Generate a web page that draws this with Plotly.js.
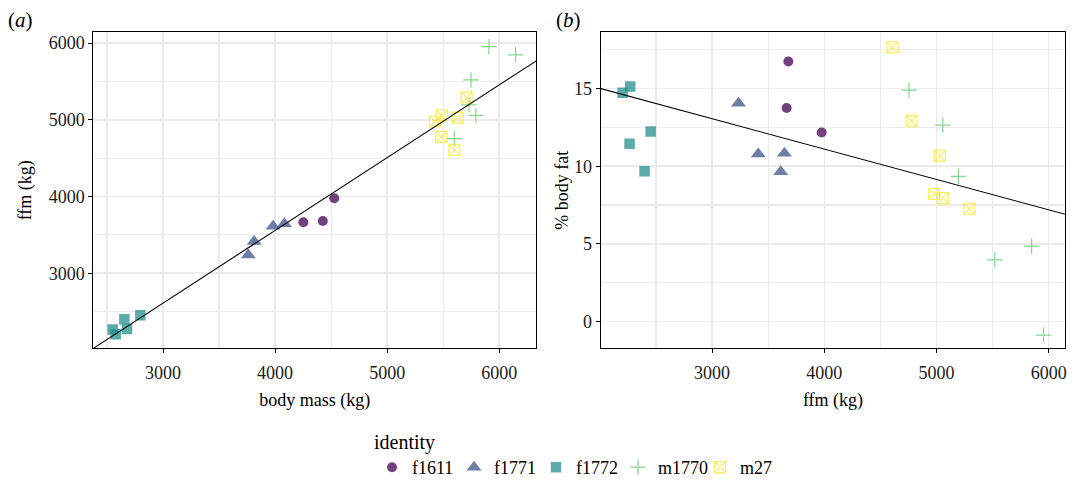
<!DOCTYPE html>
<html>
<head>
<meta charset="utf-8">
<script src="https://cdn.plot.ly/plotly-3.0.1.min.js"></script>
<style>html,body{margin:0;padding:0;background:#fff;}#chart{width:1074px;height:486px;}</style>
</head>
<body>
<div id="chart"></div>
<script>
// ---- data ----
const identities = ["f1611", "f1771", "f1772", "m1770", "m27"];
const colors = ["#440154", "#3B528B", "#21908C", "#5DC863", "#FDE725"];

// body mass (kg)
const massF1611 = [4252, 4426, 4528];
const massF1771 = [3761, 3813, 3982, 4083];
const massF1772 = [2578, 2679, 2551, 2798, 2655];
const massM1770 = [5599, 5792, 5730, 5748, 6146, 5908];
const massM27   = [5709, 5486, 5426, 5629, 5483, 5599];

// fat-free mass (kg)
const ffmF1611 = [3665, 3680, 3977];
const ffmF1771 = [3236, 3412, 3612, 3645];
const ffmF1772 = [2203, 2271, 2265, 2453, 2399];
const ffmM1770 = [4755, 5057, 5195, 5520, 5848, 5954];
const ffmM27   = [5293, 5057, 4978, 5030, 4778, 4608];

// % body fat
const fatF1611 = [13.75, 16.75, 12.17];
const fatF1771 = [14.06, 10.79, 9.65, 10.83];
const fatF1772 = [14.73, 15.13, 11.45, 12.23, 9.67];
const fatM1770 = [14.90, 12.65, 9.34, 3.97, 4.85, -0.88];
const fatM27   = [7.25, 7.94, 8.21, 10.68, 12.92, 17.66];

// fitted lines (intercept, slope)
const fitA = {intercept: -236, slope: 0.9486};
const fitB = {intercept: 18.93, slope: -0.001957};

// ---- styling ----
const mass = [massF1611, massF1771, massF1772, massM1770, massM27];
const ffm = [ffmF1611, ffmF1771, ffmF1772, ffmM1770, ffmM27];
const fat = [fatF1611, fatF1771, fatF1772, fatM1770, fatM27];
const symbols = ["circle", "triangle-up", "square", "cross-thin-open", "square-x-open"];
const sizes = [10, 13, 10.5, 11, 11];
const FONT = "'Liberation Serif', 'Times New Roman', Times, serif";

const rangeAx = [2378, 6328];
const rangeAy = [2023, 6140];
const rangeBx = [2008, 6148];
const rangeBy = [-1.71, 18.62];

function markerFor(i) {
  const open = symbols[i].endsWith("open");
  return {
    symbol: symbols[i],
    size: sizes[i],
    color: colors[i],
    opacity: 0.75,
    line: open ? {color: colors[i], width: 1.2} : {width: 0}
  };
}

const traces = [];
identities.forEach((id, i) => {
  traces.push({
    type: "scatter", mode: "markers", name: id, legendgroup: id,
    x: mass[i], y: ffm[i], xaxis: "x", yaxis: "y",
    marker: markerFor(i), showlegend: true, hoverinfo: "x+y"
  });
  traces.push({
    type: "scatter", mode: "markers", name: id, legendgroup: id,
    x: ffm[i], y: fat[i], xaxis: "x2", yaxis: "y2",
    marker: markerFor(i), showlegend: false, hoverinfo: "x+y"
  });
});

const lineAx = [rangeAx[0] - 200, rangeAx[1] + 200];
const lineBx = [rangeBx[0] - 200, rangeBx[1] + 200];
traces.push({
  type: "scatter", mode: "lines", x: lineAx,
  y: lineAx.map(v => fitA.intercept + fitA.slope * v),
  xaxis: "x", yaxis: "y", line: {color: "#000", width: 1.1}, showlegend: false, hoverinfo: "skip"
});
traces.push({
  type: "scatter", mode: "lines", x: lineBx,
  y: lineBx.map(v => fitB.intercept + fitB.slope * v),
  xaxis: "x2", yaxis: "y2", line: {color: "#000", width: 1.1}, showlegend: false, hoverinfo: "skip"
});

const GRID = "#EBEBEB";
function axis(extra) {
  return Object.assign({
    showline: true, mirror: true, linecolor: "#000", linewidth: 1,
    ticks: "outside", ticklen: 4, tickwidth: 1, tickcolor: "#000",
    showgrid: true, gridcolor: GRID, gridwidth: 1.5,
    zeroline: false, automargin: false,
    tickfont: {family: FONT, size: 18, color: "#1a1a1a"}
  }, extra);
}
function minor(t0, dt) {
  return {tick0: t0, dtick: dt, showgrid: true, gridcolor: GRID, gridwidth: 1.2, ticks: ""};
}
const titleFont = {family: FONT, size: 18, color: "#000"};

const W = 1074, H = 486;
const layout = {
  width: W, height: H,
  margin: {l: 0, r: 0, t: 0, b: 0},
  paper_bgcolor: "#fff", plot_bgcolor: "#fff",
  font: {family: FONT, size: 18, color: "#000"},
  xaxis: axis({
    domain: [93.3 / W, 536 / W], range: rangeAx, anchor: "y",
    tick0: 0, dtick: 1000, minor: minor(500, 1000), ticklabelstandoff: 4,
    title: {text: "body mass (kg)", font: titleFont, standoff: 11}
  }),
  yaxis: axis({
    domain: [1 - 357.7 / H, 1 - 33.3 / H], range: rangeAy, anchor: "x",
    tick0: 0, dtick: 1000, minor: minor(500, 1000),
    title: {text: "ffm (kg)", font: titleFont, standoff: 12}
  }),
  xaxis2: axis({
    domain: [600.7 / W, 1065.3 / W], range: rangeBx, anchor: "y2",
    tick0: 0, dtick: 1000, minor: minor(500, 1000), ticklabelstandoff: 4,
    title: {text: "ffm (kg)", font: titleFont, standoff: 11}
  }),
  yaxis2: axis({
    domain: [1 - 357.5 / H, 1 - 33.3 / H], range: rangeBy, anchor: "x2",
    tick0: 0, dtick: 5, minor: minor(2.5, 5),
    title: {text: "% body fat", font: titleFont, standoff: 0}
  }),
  showlegend: true,
  legend: {
    orientation: "h", x: 372 / W, xanchor: "left", y: 1 - 435 / H, yanchor: "top",
    bgcolor: "rgba(0,0,0,0)",
    font: {family: FONT, size: 18, color: "#000"},
    title: {text: "identity", side: "top", font: {family: FONT, size: 20, color: "#000"}},
    itemwidth: 30, tracegroupgap: 0, entrywidth: 37, entrywidthmode: "pixels"
  },
  annotations: [
    {text: "(<i>a</i>)", xref: "paper", yref: "paper", x: 6 / W, y: 1 - 6 / H, xanchor: "left", yanchor: "top",
     showarrow: false, font: {family: FONT, size: 21, color: "#000"}},
    {text: "(<i>b</i>)", xref: "paper", yref: "paper", x: 554 / W, y: 1 - 6 / H, xanchor: "left", yanchor: "top",
     showarrow: false, font: {family: FONT, size: 21, color: "#000"}}
  ]
};

Plotly.newPlot("chart", traces, layout, {displayModeBar: false, staticPlot: true});
</script>
</body>
</html>
